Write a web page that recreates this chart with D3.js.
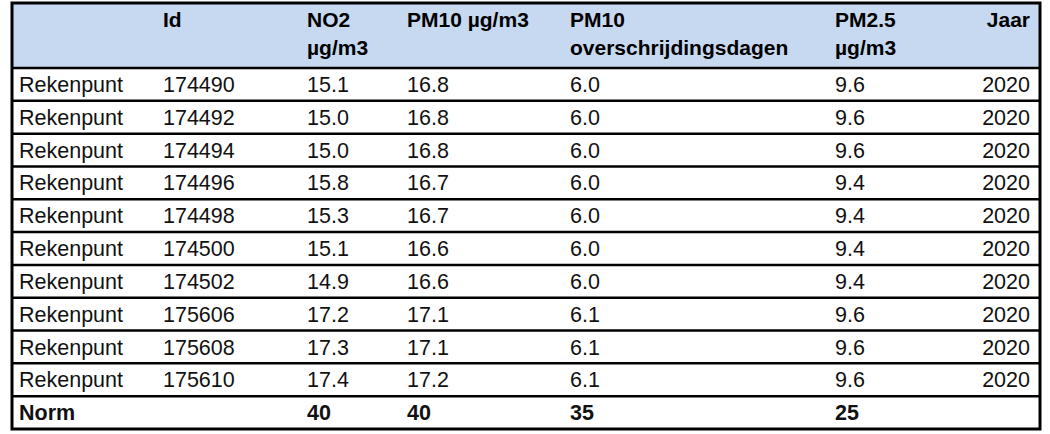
<!DOCTYPE html>
<html><head><meta charset="utf-8">
<script src="https://cdn.jsdelivr.net/npm/d3@7"></script>
<style>body{margin:0;background:#fff}</style></head>
<body><svg id="t" width="1050" height="434"></svg>
<script>
var headers = [["", ""], ["Id", ""], ["NO2", "µg/m3"], ["PM10 µg/m3", ""], ["PM10", "overschrijdingsdagen"], ["PM2.5", "µg/m3"], ["Jaar", ""]];
var ids = ["174490","174492","174494","174496","174498","174500","174502","175606","175608","175610"];
var no2 = ["15.1","15.0","15.0","15.8","15.3","15.1","14.9","17.2","17.3","17.4"];
var pm10 = ["16.8","16.8","16.8","16.7","16.7","16.6","16.6","17.1","17.1","17.2"];
var pm10days = ["6.0","6.0","6.0","6.0","6.0","6.0","6.0","6.1","6.1","6.1"];
var pm25 = ["9.6","9.6","9.6","9.4","9.4","9.4","9.4","9.6","9.6","9.6"];
var jaar = "2020";
var norm = ["Norm", "", "40", "40", "35", "25", ""];

var colX = [19, 163, 307, 407, 570, 835, 1030];
var tLeft = 12, tRight = 1040, tTop = 3, headBottom = 68, tBottom = 429;

var rows = ids.map(function(id, i){
  return ["Rekenpunt", id, no2[i], pm10[i], pm10days[i], pm25[i], jaar];
});
rows.push(norm);

var svg = d3.select('#t');
var y = d3.scaleLinear().domain([0, rows.length]).range([headBottom, tBottom]);

svg.append('rect').attr('x', tLeft).attr('y', tTop).attr('width', tRight-tLeft).attr('height', headBottom-tTop)
  .attr('fill', '#c6d9f1');

var anchor = function(j){ return j == 6 ? 'end' : 'start'; };
var font = "'Liberation Sans', Arial, sans-serif";

headers.forEach(function(h, j){
  h.forEach(function(line, k){
    svg.append('text').attr('x', colX[j]).attr('y', 27 + k*28)
      .attr('text-anchor', anchor(j)).attr('font-family', font).attr('font-size', 21)
      .attr('font-weight', 'bold').text(line);
  });
});

rows.forEach(function(r, i){
  r.forEach(function(v, j){
    svg.append('text').attr('x', colX[j]).attr('y', y(i) + 24)
      .attr('text-anchor', anchor(j)).attr('font-family', font).attr('font-size', 21.5)
      .attr('font-weight', i == rows.length-1 ? 'bold' : 'normal').attr('fill', '#111').text(v);
  });
});

d3.range(0, rows.length).forEach(function(i){
  svg.append('line').attr('x1', tLeft).attr('x2', tRight).attr('y1', y(i)).attr('y2', y(i))
    .attr('stroke', '#000').attr('stroke-width', 2.5);
});
svg.append('rect').attr('x', tLeft).attr('y', tTop).attr('width', tRight-tLeft).attr('height', tBottom-tTop)
  .attr('fill', 'none').attr('stroke', '#000').attr('stroke-width', 3);
</script></body></html>
